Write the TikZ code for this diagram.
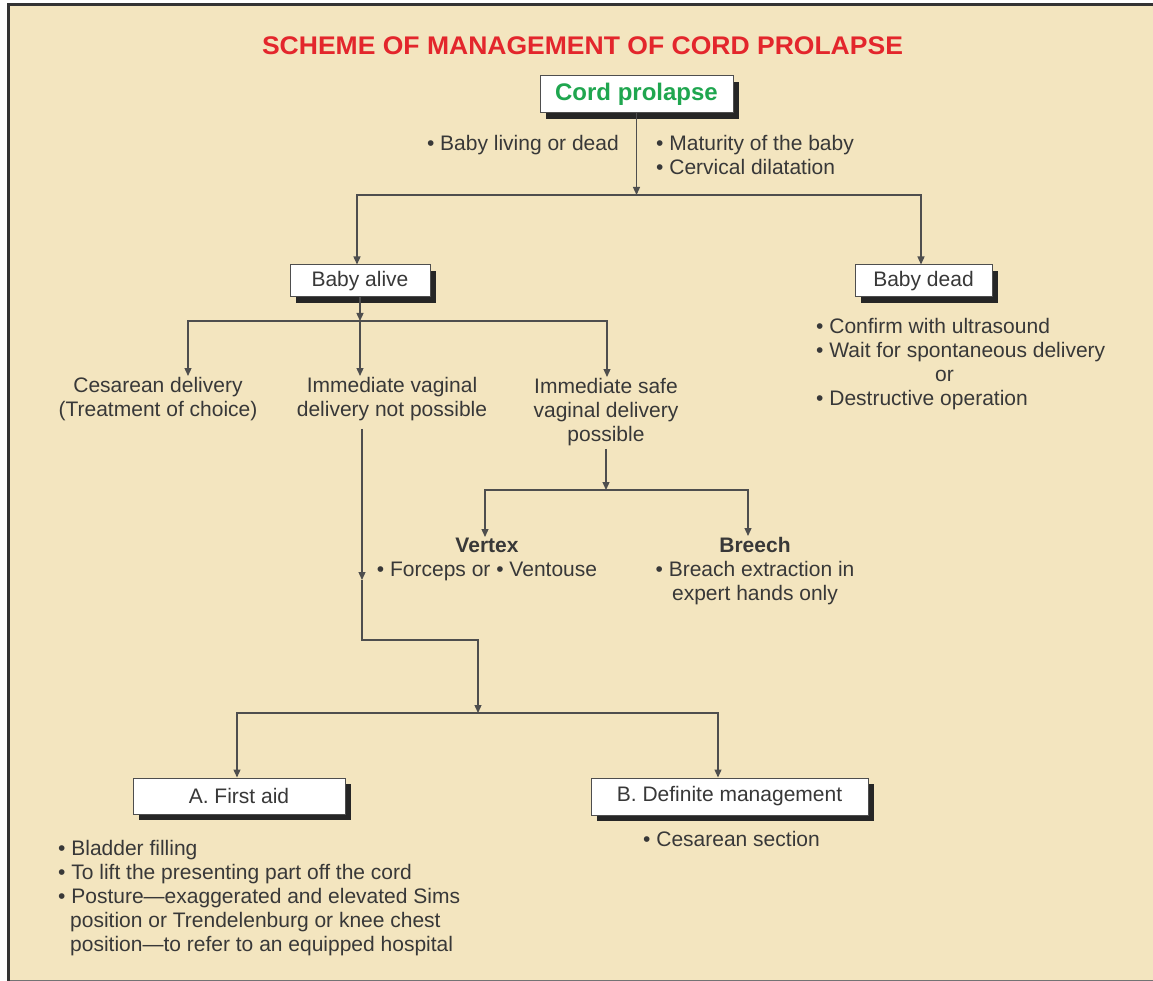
\documentclass[tikz,border=0pt]{standalone}
\usepackage{fontspec}
\setmainfont{Liberation Sans}
\usetikzlibrary{arrows.meta}
\usetikzlibrary{shadows}

\definecolor{paper}{HTML}{F3E5BF}
\definecolor{titlered}{HTML}{E3262C}
\definecolor{cordgreen}{HTML}{1FA64F}
\definecolor{ink}{HTML}{383838}
\definecolor{wire}{HTML}{4E4E4E}

\tikzset{
  box/.style={draw=wire, line width=1pt, fill=white, text=ink,
    font=\fontsize{21}{24}\selectfont, minimum height=32pt, inner sep=0pt,
    drop shadow={opacity=1, fill=black!85, shadow xshift=6pt, shadow yshift=-6pt}},
  txt/.style={text=ink, font=\fontsize{21}{24}\selectfont, align=center, inner sep=1pt},
  arr/.style={draw=wire, line width=1.3pt, -{Triangle[length=8pt,width=7pt]}}
}

\begin{document}
\begin{tikzpicture}[x=1pt, y=-1pt]
  \useasboundingbox (0,0) rectangle (1153,981);

  % 背景と枠
  \fill[white] (0,0) rectangle (1153,981);
  \fill[paper] (8,5) rectangle (1153,980);
  \draw[black!55, line width=1pt] (8,980.5) -- (1153,980.5);
  \draw[black!80, line width=3pt] (8,981) -- (8,5) -- (1153,5);

  % タイトル
  \node[text=titlered, font=\bfseries\fontsize{25.5}{30}\selectfont, anchor=base, xscale=1.04] (title)
    at (582.5,55) {SCHEME OF MANAGEMENT OF CORD PROLAPSE};

  % 箱
  \node[box, minimum width=193pt, minimum height=37pt, text=cordgreen,
    font=\bfseries\fontsize{24}{27}\selectfont] (cord) at (636.5,94.5) {Cord prolapse};
  \node[box, minimum width=140pt] (alive) at (360,281) {Baby alive};
  \node[box, minimum width=137pt] (dead) at (923.5,281) {Baby dead};
  \node[box, minimum width=212pt, minimum height=36pt] (aid) at (239,796) {A. First aid};
  \node[box, minimum width=277pt, minimum height=37pt] (def) at (729.5,796.5) {B. Definite management};

  % テキスト
  \node[txt, anchor=north east] (living) at (620,134) {• Baby living or dead};
  \node[txt, anchor=north west, align=left] (maturity) at (655,134)
    {• Maturity of the baby\\• Cervical dilatation};
  \node[txt, anchor=north west, align=left] (deadnotes) at (815,317)
    {• Confirm with ultrasound\\• Wait for spontaneous delivery\\\hspace*{119pt}or\\• Destructive operation};
  \node[txt] (ces) at (158,376) [anchor=north] {Cesarean delivery\\(Treatment of choice)};
  \node[txt] (imm) at (392,376) [anchor=north] {Immediate vaginal\\delivery not possible};
  \node[txt] (safe) at (606,377) [anchor=north] {Immediate safe\\vaginal delivery\\possible};
  \node[txt] (vertex) at (487,537) [anchor=north] {\textbf{Vertex}\\• Forceps or • Ventouse};
  \node[txt] (breech) at (755,536) [anchor=north] {\textbf{Breech}\\• Breach extraction in\\expert hands only};
  \node[txt, anchor=north west, align=left] (aidnotes) at (57,839)
    {• Bladder filling\\• To lift the presenting part off the cord\\• Posture—exaggerated and elevated Sims\\\hspace*{12pt}position or Trendelenburg or knee chest\\\hspace*{12pt}position—to refer to an equipped hospital};
  \node[txt, anchor=north west] (section) at (642,830) {• Cesarean section};

  % 分岐点
  \coordinate (j1) at (636.5,195);
  \coordinate (j2) at (360,321);
  \coordinate (j3) at (606,490);
  \coordinate (k1) at (362,580);
  \coordinate (k2) at (362,640);
  \coordinate (j4) at (478,713);

  % 矢印
  \draw[arr] (cord) -- (j1);
  \draw[arr] (j1) -| ([xshift=-3pt]alive.north);
  \draw[arr] (j1) -| ([xshift=-2.5pt]dead.north);

  \draw[arr] (alive) -- (j2);
  \draw[arr] (j2) -| ([xshift=30pt]ces.north);
  \draw[arr] (j2) -| ([xshift=-32pt]imm.north);
  \draw[arr] (j2) -| ([xshift=1pt]safe.north);

  \draw[arr, shorten <=2pt] (safe.south) -- (j3);
  \draw[arr] (j3) -| ([xshift=-2pt]vertex.north);
  \draw[arr] (j3) -| ([xshift=-7pt]breech.north);

  \draw[arr, shorten <=7pt] ([xshift=-30pt]imm.south) -- (k1);
  \draw[arr] (k1) -- (k2) -| (j4);
  \draw[arr] (j4) -| ([xshift=-2pt]aid.north);
  \draw[arr] (j4) -| ([xshift=-11.5pt]def.north);
\end{tikzpicture}
\end{document}
